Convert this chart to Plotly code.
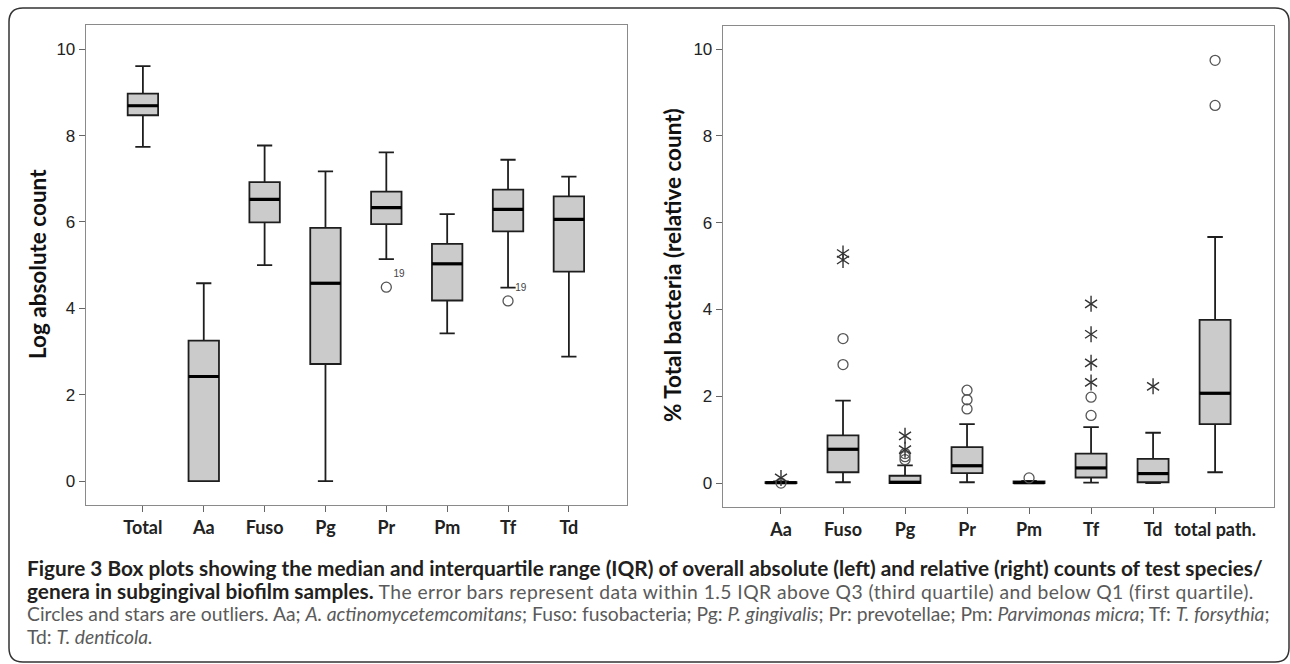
import plotly.graph_objects as go

W, H = 1290, 664

# ---------------- data: left panel (log absolute count) ----------------
left_cats = ["Total", "Aa", "Fuso", "Pg", "Pr", "Pm", "Tf", "Td"]
left_lo = [7.74, 0.0, 5.00, 0.0, 5.14, 3.42, 4.48, 2.88]
left_q1 = [8.47, 0.0, 5.99, 2.71, 5.95, 4.18, 5.78, 4.85]
left_med = [8.69, 2.42, 6.52, 4.58, 6.33, 5.03, 6.29, 6.06]
left_q3 = [8.97, 3.25, 6.92, 5.86, 6.70, 5.49, 6.75, 6.59]
left_hi = [9.61, 4.58, 7.77, 7.17, 7.61, 6.18, 7.44, 7.05]
left_out_cat = ["Pr", "Tf"]
left_out_val = [4.49, 4.17]
left_out_lab = ["19", "19"]

# ---------------- data: right panel (% of total bacteria) ----------------
right_cats = ["Aa", "Fuso", "Pg", "Pr", "Pm", "Tf", "Td", "total path."]
right_lo = [0.0, 0.02, 0.0, 0.02, 0.0, 0.01, 0.0, 0.25]
right_q1 = [0.0, 0.25, 0.0, 0.23, 0.0, 0.13, 0.02, 1.36]
right_med = [0.01, 0.78, 0.02, 0.40, 0.01, 0.35, 0.22, 2.07]
right_q3 = [0.02, 1.10, 0.17, 0.83, 0.04, 0.68, 0.56, 3.76]
right_hi = [0.04, 1.90, 0.41, 1.36, 0.05, 1.29, 1.16, 5.67]
right_circ_cat = ["Aa", "Fuso", "Fuso", "Pg", "Pg", "Pg", "Pr", "Pr", "Pr", "Pm",
                  "Tf", "Tf", "total path.", "total path."]
right_circ_val = [0.0, 3.33, 2.73, 0.54, 0.61, 0.68, 2.14, 1.92, 1.71, 0.12,
                  1.98, 1.56, 9.74, 8.70]
right_star_cat = ["Aa", "Fuso", "Fuso", "Pg", "Pg", "Tf", "Tf", "Tf", "Tf", "Td"]
right_star_val = [0.12, 5.29, 5.14, 1.09, 0.77, 4.13, 3.43, 2.77, 2.32, 2.23]

y_ticks = [0, 2, 4, 6, 8, 10]

BOX_FILL = "#cbcbcb"
BOX_LINE = "#1e1e1e"
FRAME = "#8a8a8a"
TICK_FONT = "Liberation Sans Narrow, Arial Narrow, Liberation Sans, Arial"
LABEL_FONT = "Lato, Open Sans, DejaVu Sans"


def px(x):
    return x / W


def py(y):
    return 1 - y / H


fig = go.Figure()


def add_panel(cats, lo, q1, med, q3, hi, xa, ya):
    pos = list(range(len(cats)))
    fig.add_trace(go.Box(
        x=pos, q1=q1, median=med, q3=q3, lowerfence=lo, upperfence=hi,
        width=0.5, whiskerwidth=0.5, fillcolor=BOX_FILL,
        line=dict(color=BOX_LINE, width=1.8), boxpoints=False,
        xaxis=xa, yaxis=ya, showlegend=False, hoverinfo="skip"))
    mx, my = [], []
    for p, m in zip(pos, med):
        mx += [p - 0.25, p + 0.25, None]
        my += [m, m, None]
    fig.add_trace(go.Scatter(x=mx, y=my, mode="lines",
                             line=dict(color="#000000", width=3.2),
                             xaxis=xa, yaxis=ya, showlegend=False, hoverinfo="skip"))


add_panel(left_cats, left_lo, left_q1, left_med, left_q3, left_hi, "x", "y")
add_panel(right_cats, right_lo, right_q1, right_med, right_q3, right_hi, "x2", "y2")

# left outliers with case labels
fig.add_trace(go.Scatter(
    x=[left_cats.index(c) for c in left_out_cat], y=left_out_val,
    mode="markers+text", text=left_out_lab, textposition="top right",
    textfont=dict(size=10, color="#444", family="Liberation Sans, Arial"),
    marker=dict(symbol="circle-open", size=10, color="#555", line=dict(width=1.3)),
    xaxis="x", yaxis="y", showlegend=False, hoverinfo="skip"))

# right outliers: circles
fig.add_trace(go.Scatter(
    x=[right_cats.index(c) for c in right_circ_cat], y=right_circ_val,
    mode="markers",
    marker=dict(symbol="circle-open", size=10, color="#555", line=dict(width=1.3)),
    xaxis="x2", yaxis="y2", showlegend=False, hoverinfo="skip"))

# right outliers: stars (six-spoke asterisk = y-up + y-down)
for sym in ["y-up-open", "y-down-open"]:
    fig.add_trace(go.Scatter(
        x=[right_cats.index(c) for c in right_star_cat], y=right_star_val,
        mode="markers",
        marker=dict(symbol=sym, size=10, color="#333", line=dict(width=1.4, color="#333")),
        xaxis="x2", yaxis="y2", showlegend=False, hoverinfo="skip"))

axis_common = dict(showgrid=False, zeroline=False, showline=True, mirror=True,
                   linecolor=FRAME, linewidth=1, ticks="outside", ticklen=6,
                   tickcolor="#666", tickwidth=1)

fig.update_layout(
    width=W, height=H, margin=dict(l=0, r=0, t=0, b=0),
    paper_bgcolor="white", plot_bgcolor="white", showlegend=False,
    xaxis=dict(domain=[px(85.7), px(626.7)], range=[-0.94, 7.95],
               tickvals=list(range(len(left_cats))), ticktext=left_cats,
               tickfont=dict(family=LABEL_FONT, size=18, color="#222", weight="bold"),
               anchor="y", **axis_common),
    yaxis=dict(domain=[py(505), py(25)], range=[-0.555, 10.56],
               tickvals=y_ticks,
               tickfont=dict(family=TICK_FONT, size=17, color="#222"),
               anchor="x", **axis_common),
    xaxis2=dict(domain=[px(722.7), px(1274)], range=[-0.94, 7.95],
                tickvals=list(range(len(right_cats))), ticktext=right_cats,
                tickfont=dict(family=LABEL_FONT, size=18, color="#222", weight="bold"),
                anchor="y2", **axis_common),
    yaxis2=dict(domain=[py(507), py(26)], range=[-0.55, 10.53],
                tickvals=y_ticks,
                tickfont=dict(family=TICK_FONT, size=17, color="#222"),
                anchor="x2", **axis_common),
)

# axis titles
fig.add_annotation(x=px(37), y=py(264), xref="paper", yref="paper",
                   text="<b>Log absolute count</b>", textangle=-90, showarrow=False,
                   xanchor="center", yanchor="middle",
                   font=dict(family=LABEL_FONT, size=22.5, color="#111"))
fig.add_annotation(x=px(672), y=py(265), xref="paper", yref="paper",
                   text="<b>% Total bacteria (relative count)</b>", textangle=-90,
                   showarrow=False, xanchor="center", yanchor="middle",
                   font=dict(family=LABEL_FONT, size=22.5, color="#111"))

# caption
GRAY = "#5a5a5a"
B = "<span style='font-size:20.8px'><b>%s</b></span>"
G = "<span style='color:" + GRAY + ";font-size:19.3px'>%s</span>"
G2 = "<span style='color:" + GRAY + ";font-size:19.3px;letter-spacing:0.45px'>%s</span>"
cap_lines = [
    B % "Figure 3 Box plots showing the median and interquartile range (IQR) of overall absolute (left) and relative (right) counts of test species/",
    B % "genera in subgingival biofilm samples." + " " + G2 % "The error bars represent data within 1.5 IQR above Q3 (third quartile) and below Q1 (first quartile).",
    G % "Circles and stars are outliers. Aa; <i>A. actinomycetemcomitans</i>; Fuso: fusobacteria; Pg: <i>P. gingivalis</i>; Pr: prevotellae; Pm: <i>Parvimonas micra</i>; Tf: <i>T. forsythia</i>;",
    G % "Td: <i>T. denticola.</i>",
]
cap_y = [567, 590, 613, 636]
for t, yy in zip(cap_lines, cap_y):
    fig.add_annotation(x=px(25), y=py(yy), xref="paper", yref="paper",
                       text=t, showarrow=False, xanchor="left", yanchor="middle",
                       align="left",
                       font=dict(family=LABEL_FONT, size=19, color="#231f20"))

# outer rounded frame
x0, y0, x1, y1, r = 9, 8, 1289, 662, 14
path = (f"M {px(x0 + r)} {py(y0)} L {px(x1 - r)} {py(y0)} "
        f"Q {px(x1)} {py(y0)} {px(x1)} {py(y0 + r)} "
        f"L {px(x1)} {py(y1 - r)} Q {px(x1)} {py(y1)} {px(x1 - r)} {py(y1)} "
        f"L {px(x0 + r)} {py(y1)} Q {px(x0)} {py(y1)} {px(x0)} {py(y1 - r)} "
        f"L {px(x0)} {py(y0 + r)} Q {px(x0)} {py(y0)} {px(x0 + r)} {py(y0)} Z")
fig.add_shape(type="path", path=path, xref="paper", yref="paper",
              line=dict(color="#333", width=1.5), layer="below")

fig.write_html("out.html", config={"displayModeBar": False},
               post_script="document.body.style.margin='0';document.body.style.overflow='hidden';")
